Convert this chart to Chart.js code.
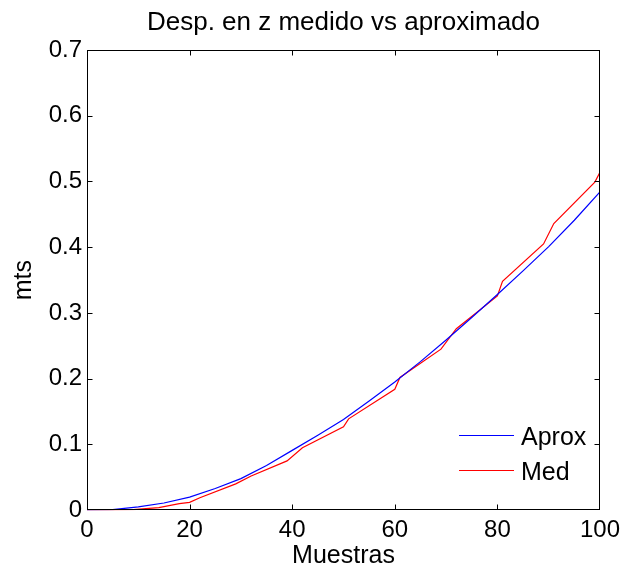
<!DOCTYPE html>
<html>
<head>
<meta charset="utf-8">
<script src="https://cdn.jsdelivr.net/npm/chart.js@4.4.0/dist/chart.umd.min.js"></script>
<style>
  html, body { margin: 0; padding: 0; background: #fff; }
  #wrap { width: 626px; height: 575px; }
</style>
</head>
<body>
<div id="wrap"><canvas id="grafico"></canvas></div>
<script>
// curva aproximada (azul)
const muestrasAprox = [0, 5, 10, 15, 20, 25, 30, 35, 40, 45, 50, 55, 60, 65, 70, 75, 80, 85, 90, 95, 100];
const valoresAprox = [0, 0.001, 0.005, 0.011, 0.020, 0.033, 0.048, 0.068, 0.091, 0.114, 0.138, 0.166, 0.195, 0.226, 0.259, 0.293, 0.328, 0.364, 0.401, 0.441, 0.484];

// desplazamiento medido (rojo)
const muestrasMed = [0, 4, 9, 14, 18, 20, 22, 29, 32, 39, 42, 50, 51, 60, 61, 69, 72, 80, 81, 89, 91, 99, 100];
const valoresMed = [0, 0, 0.001, 0.004, 0.010, 0.012, 0.019, 0.040, 0.052, 0.075, 0.095, 0.127, 0.139, 0.184, 0.202, 0.245, 0.276, 0.326, 0.348, 0.405, 0.436, 0.499, 0.514];

const ticksX = [0, 20, 40, 60, 80, 100];
const ticksY = [0, 0.1, 0.2, 0.3, 0.4, 0.5, 0.6, 0.7];

const titulo = "Desp. en z medido vs aproximado";
const fuente = "'Liberation Sans', Arial, Helvetica, sans-serif";

// caja, marcas hacia adentro, titulo y leyenda al estilo matlab
const marcoPlugin = {
  id: "marco",
  afterDatasetsDraw(chart) {
    const { ctx, chartArea: a, scales } = chart;
    ctx.save();
    ctx.strokeStyle = "#000";
    ctx.lineWidth = 1;
    const l = Math.round(a.left) + 0.5, r = Math.round(a.right) - 0.5;
    const t = Math.round(a.top) + 0.5, b = Math.round(a.bottom) - 0.5;
    ctx.strokeRect(l, t, r - l, b - t);

    ctx.beginPath();
    ticksX.slice(1, -1).forEach(v => {
      const px = Math.round(scales.x.getPixelForValue(v)) + 0.5;
      ctx.moveTo(px, b); ctx.lineTo(px, b - 5);
      ctx.moveTo(px, t); ctx.lineTo(px, t + 5);
    });
    ticksY.slice(1, -1).forEach(v => {
      const py = Math.round(scales.y.getPixelForValue(v)) + 0.5;
      ctx.moveTo(l, py); ctx.lineTo(l + 5, py);
      ctx.moveTo(r, py); ctx.lineTo(r - 5, py);
    });
    ctx.stroke();

    ctx.fillStyle = "#000";
    ctx.textBaseline = "alphabetic";
    ctx.font = "26px " + fuente;
    ctx.textAlign = "center";
    ctx.fillText(titulo, (a.left + a.right) / 2, 30);

    ctx.textAlign = "left";
    ctx.font = "25px " + fuente;
    chart.data.datasets.forEach((ds, i) => {
      const y = 435 + i * 35;
      ctx.strokeStyle = ds.borderColor;
      ctx.lineWidth = 1.2;
      ctx.beginPath();
      ctx.moveTo(459, y + 0.5);
      ctx.lineTo(514, y + 0.5);
      ctx.stroke();
      ctx.fillText(ds.label, 521, y + 10);
    });
    ctx.restore();
  }
};

const puntos = (xs, ys) => xs.map((x, i) => ({ x: x, y: ys[i] }));

new Chart(document.getElementById("grafico"), {
  type: "line",
  data: {
    datasets: [
      {
        label: "Aprox",
        data: puntos(muestrasAprox, valoresAprox),
        borderColor: "rgb(0, 0, 255)",
        borderWidth: 1.2,
        pointRadius: 0,
        tension: 0,
        fill: false
      },
      {
        label: "Med",
        data: puntos(muestrasMed, valoresMed),
        borderColor: "rgb(255, 0, 0)",
        borderWidth: 1.2,
        pointRadius: 0,
        tension: 0,
        fill: false
      }
    ]
  },
  options: {
    responsive: true,
    maintainAspectRatio: false,
    animation: false,
    devicePixelRatio: 1,
    layout: { padding: { top: 50, right: 24, bottom: 0, left: 0 } },
    plugins: {
      legend: { display: false },
      title: { display: false },
      tooltip: { enabled: false }
    },
    scales: {
      x: {
        type: "linear",
        min: 0,
        max: 100,
        grid: { display: false, drawTicks: false },
        border: { display: false },
        afterBuildTicks: s => { s.ticks = ticksX.map(v => ({ value: v })); },
        ticks: {
          color: "#000",
          maxRotation: 0,
          padding: 6,
          font: { family: fuente, size: 24 }
        },
        title: {
          display: true,
          text: "Muestras",
          color: "#000",
          font: { family: fuente, size: 25, lineHeight: 1 },
          padding: { top: -7, bottom: 6 }
        }
      },
      y: {
        min: 0,
        max: 0.7,
        grid: { display: false, drawTicks: false },
        border: { display: false },
        afterBuildTicks: s => { s.ticks = ticksY.map(v => ({ value: v })); },
        afterFit: s => { s.width = 87; },
        ticks: {
          color: "#000",
          padding: 5,
          font: { family: fuente, size: 24 },
          callback: v => String(+v.toFixed(1))
        },
        title: {
          display: true,
          text: "mts",
          color: "#000",
          font: { family: fuente, size: 25 },
          padding: { top: 9, bottom: 0 }
        }
      }
    }
  },
  plugins: [marcoPlugin]
});
</script>
</body>
</html>
